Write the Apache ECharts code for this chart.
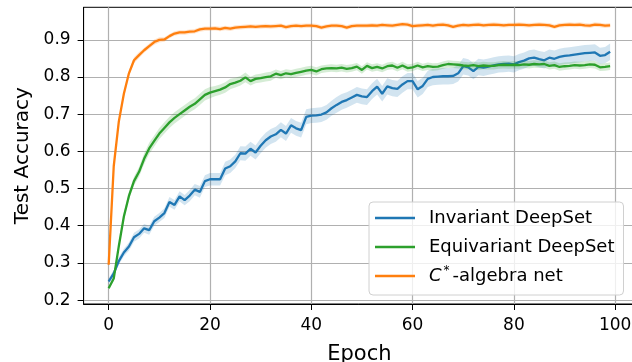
<!DOCTYPE html>
<html>
<head>
<meta charset="utf-8">
<script src="https://cdn.jsdelivr.net/npm/echarts@6/dist/echarts.min.js"></script>
<style>
html,body{margin:0;padding:0;background:#fff;}
#chart{width:632px;height:362px;}
</style>
</head>
<body>
<div id="chart"></div>
<script>
// ---- data ----
const seriesNames = ['Invariant DeepSet', 'Equivariant DeepSet', 'C*-algebra net'];
const xTicks = [0, 20, 40, 60, 80, 100];
const yTicks = [0.2, 0.3, 0.4, 0.5, 0.6, 0.7, 0.8, 0.9];

const invariantMean = [
 0.250,0.272,0.305,0.328,0.344,0.369,0.378,0.393,0.388,0.412,
 0.422,0.434,0.464,0.456,0.479,0.469,0.481,0.497,0.491,0.520,
 0.525,0.525,0.525,0.554,0.560,0.573,0.595,0.594,0.607,0.597,
 0.615,0.630,0.640,0.646,0.658,0.648,0.670,0.662,0.657,0.693,
 0.696,0.697,0.699,0.705,0.716,0.725,0.733,0.738,0.745,0.752,
 0.748,0.746,0.762,0.774,0.755,0.775,0.770,0.768,0.780,0.789,
 0.789,0.767,0.776,0.795,0.800,0.801,0.802,0.802,0.803,0.810,
 0.829,0.826,0.816,0.827,0.825,0.828,0.831,0.834,0.835,0.836,
 0.834,0.840,0.844,0.850,0.852,0.848,0.845,0.852,0.849,0.854,
 0.857,0.858,0.860,0.862,0.864,0.865,0.866,0.857,0.859,0.868];
const invariantStd = [
 0.008,0.009,0.010,0.010,0.011,0.012,0.012,0.012,0.012,0.012,
 0.012,0.013,0.013,0.013,0.014,0.014,0.015,0.015,0.016,0.016,
 0.017,0.017,0.017,0.018,0.018,0.018,0.019,0.019,0.019,0.019,
 0.020,0.020,0.020,0.020,0.020,0.020,0.020,0.020,0.020,0.020,
 0.020,0.020,0.020,0.020,0.020,0.021,0.021,0.021,0.021,0.021,
 0.021,0.021,0.021,0.021,0.021,0.022,0.022,0.022,0.022,0.022,
 0.022,0.022,0.022,0.022,0.022,0.022,0.022,0.022,0.022,0.022,
 0.022,0.022,0.022,0.022,0.022,0.022,0.022,0.022,0.022,0.022,
 0.022,0.022,0.022,0.022,0.022,0.022,0.022,0.022,0.022,0.022,
 0.022,0.022,0.022,0.022,0.022,0.022,0.022,0.022,0.022,0.022];

const equivariantMean = [
 0.232,0.258,0.345,0.425,0.480,0.520,0.545,0.580,0.608,0.628,
 0.648,0.663,0.678,0.690,0.700,0.710,0.720,0.728,0.740,0.752,
 0.758,0.762,0.766,0.772,0.781,0.785,0.790,0.799,0.789,0.795,
 0.797,0.800,0.802,0.809,0.805,0.810,0.808,0.811,0.814,0.817,
 0.819,0.815,0.821,0.823,0.824,0.823,0.825,0.822,0.824,0.828,
 0.819,0.830,0.824,0.827,0.823,0.829,0.831,0.825,0.831,0.824,
 0.826,0.831,0.826,0.829,0.827,0.828,0.832,0.835,0.834,0.833,
 0.831,0.830,0.832,0.829,0.831,0.830,0.830,0.832,0.833,0.832,
 0.833,0.832,0.834,0.833,0.835,0.834,0.835,0.830,0.832,0.827,
 0.829,0.830,0.832,0.831,0.832,0.834,0.833,0.826,0.827,0.829];
const equivariantStd = [
 0.005,0.006,0.008,0.010,0.011,0.012,0.013,0.014,0.015,0.015,
 0.015,0.015,0.015,0.015,0.015,0.015,0.015,0.015,0.015,0.015,
 0.015,0.014,0.014,0.014,0.014,0.013,0.013,0.013,0.012,0.012,
 0.012,0.012,0.012,0.011,0.011,0.011,0.011,0.011,0.011,0.011,
 0.011,0.011,0.010,0.010,0.010,0.010,0.010,0.010,0.010,0.010,
 0.010,0.010,0.010,0.010,0.010,0.010,0.010,0.010,0.010,0.010,
 0.010,0.010,0.010,0.010,0.010,0.010,0.010,0.010,0.010,0.010,
 0.010,0.010,0.010,0.010,0.010,0.010,0.010,0.010,0.010,0.010,
 0.010,0.010,0.010,0.010,0.010,0.010,0.010,0.010,0.010,0.010,
 0.010,0.010,0.010,0.010,0.010,0.010,0.010,0.010,0.010,0.010];

const cstarMean = [
 0.295,0.560,0.680,0.755,0.810,0.845,0.859,0.872,0.883,0.894,
 0.900,0.901,0.910,0.917,0.920,0.920,0.922,0.923,0.928,0.930,
 0.930,0.931,0.929,0.932,0.930,0.933,0.934,0.935,0.936,0.935,
 0.936,0.937,0.936,0.937,0.938,0.934,0.937,0.938,0.937,0.938,
 0.938,0.937,0.933,0.936,0.938,0.938,0.937,0.933,0.937,0.938,
 0.938,0.938,0.939,0.938,0.940,0.939,0.938,0.940,0.942,0.941,
 0.937,0.938,0.939,0.940,0.938,0.940,0.941,0.939,0.935,0.938,
 0.940,0.939,0.940,0.941,0.939,0.940,0.941,0.940,0.939,0.940,
 0.940,0.941,0.940,0.939,0.940,0.941,0.940,0.939,0.935,0.939,
 0.940,0.941,0.940,0.941,0.939,0.938,0.941,0.940,0.938,0.939];
const cstarStd = [
 0.005,0.008,0.009,0.009,0.008,0.008,0.008,0.007,0.007,0.007,
 0.007,0.006,0.006,0.006,0.006,0.006,0.006,0.006,0.006,0.006,
 0.006,0.006,0.006,0.006,0.006,0.006,0.006,0.006,0.006,0.006,
 0.006,0.006,0.006,0.006,0.006,0.006,0.006,0.006,0.006,0.006,
 0.006,0.006,0.006,0.006,0.006,0.006,0.006,0.006,0.006,0.006,
 0.006,0.006,0.006,0.006,0.006,0.006,0.006,0.006,0.006,0.006,
 0.006,0.006,0.006,0.006,0.006,0.006,0.006,0.006,0.006,0.006,
 0.006,0.006,0.006,0.006,0.006,0.006,0.006,0.006,0.006,0.006,
 0.006,0.006,0.006,0.006,0.006,0.006,0.006,0.006,0.006,0.006,
 0.006,0.006,0.006,0.006,0.006,0.006,0.006,0.006,0.006,0.006];

// ---- build chart ----
const colors = ['#1f77b4', '#2ca02c', '#ff7f0e'];
const bandColors = ['rgba(31,119,180,0.2)', 'rgba(44,160,44,0.2)', 'rgba(255,127,14,0.2)'];
const means = [invariantMean, equivariantMean, cstarMean];
const stds = [invariantStd, equivariantStd, cstarStd];
const FONT = 'DejaVu Sans';

const series = [];
means.forEach((m, k) => {
  const sd = stds[k];
  // shaded band (mean ± std) drawn through the axis scales
  series.push({
    name: 'band' + k, type: 'custom', silent: true, z: 2 + k * 2,
    data: [[0, m[0]]],
    renderItem: (params, api) => {
      const upper = m.map((v, i) => api.coord([i, v + sd[i]]));
      const lower = m.map((v, i) => api.coord([i, v - sd[i]])).reverse();
      return { type: 'polygon', shape: { points: upper.concat(lower) },
               style: { fill: bandColors[k], stroke: null } };
    }
  });
  series.push({
    name: seriesNames[k], type: 'line', symbol: 'none', showSymbol: false,
    data: m.map((v, i) => [i, v]),
    lineStyle: { color: colors[k], width: 2.3 },
    itemStyle: { color: colors[k] }, z: 3 + k * 2
  });
});

const chart = echarts.init(document.getElementById('chart'), null, { renderer: 'canvas' });
chart.setOption({
  animation: false,
  backgroundColor: '#fff',
  textStyle: { fontFamily: FONT },
  grid: { left: 83.6, top: 7.3, width: 551.6, height: 296.7, show: true,
          outerBoundsMode: 'none', containLabel: false,
          borderColor: '#000', borderWidth: 1, backgroundColor: 'transparent' },
  xAxis: {
    type: 'value', min: -4.95, max: 103.95,
    name: 'Epoch', nameLocation: 'middle', nameGap: 40,
    nameTextStyle: { fontFamily: FONT, fontSize: 21, color: '#000' },
    axisLine: { show: true, onZero: false, lineStyle: { color: '#000', width: 1 } },
    axisTick: { show: true, inside: false, length: 6, customValues: xTicks, lineStyle: { color: '#000', width: 1 } },
    axisLabel: { customValues: xTicks, margin: 13, fontFamily: FONT, fontSize: 17, color: '#000', hideOverlap: false },
    splitLine: { show: true, lineStyle: { color: '#b0b0b0', width: 1.2 } }
  },
  yAxis: {
    type: 'value', min: 0.1895, max: 0.9875,
    name: 'Test Accuracy', nameLocation: 'middle', nameGap: 50,
    nameTextStyle: { fontFamily: FONT, fontSize: 20, color: '#000' },
    axisLine: { show: true, onZero: false, lineStyle: { color: '#000', width: 1 } },
    axisTick: { show: true, inside: false, length: 6, customValues: yTicks, lineStyle: { color: '#000', width: 1 } },
    axisLabel: { customValues: yTicks, margin: 13, fontFamily: FONT, fontSize: 17, color: '#000',
                 formatter: v => v.toFixed(1) },
    splitLine: { show: true, lineStyle: { color: '#b0b0b0', width: 1.2 } }
  },
  legend: {
    data: seriesNames,
    orient: 'vertical', left: 369, top: 202,
    padding: [5, 9, 8, 6],
    itemGap: 7, itemWidth: 40, itemHeight: 2.6,
    icon: 'rect',
    backgroundColor: 'rgba(255,255,255,0.8)',
    borderColor: '#d0d0d0', borderWidth: 1, borderRadius: 4,
    textStyle: {
      fontFamily: FONT, fontSize: 18, color: '#000', lineHeight: 20, padding: [0, 0, 0, 9],
      rich: {
        t: { fontFamily: FONT, fontSize: 18, color: '#000', lineHeight: 22 },
        c: { fontFamily: FONT, fontSize: 18, fontStyle: 'italic', color: '#000', lineHeight: 22 },
        s: { fontFamily: FONT, fontSize: 12, color: '#000', verticalAlign: 'top', padding: [0, 3, 0, 2], lineHeight: 22 }
      }
    },
    formatter: name => name === 'C*-algebra net' ? '{c|C}{s|*}{t|-algebra net}' : '{t|' + name + '}'
  },
  series: series
});
</script>
</body>
</html>
